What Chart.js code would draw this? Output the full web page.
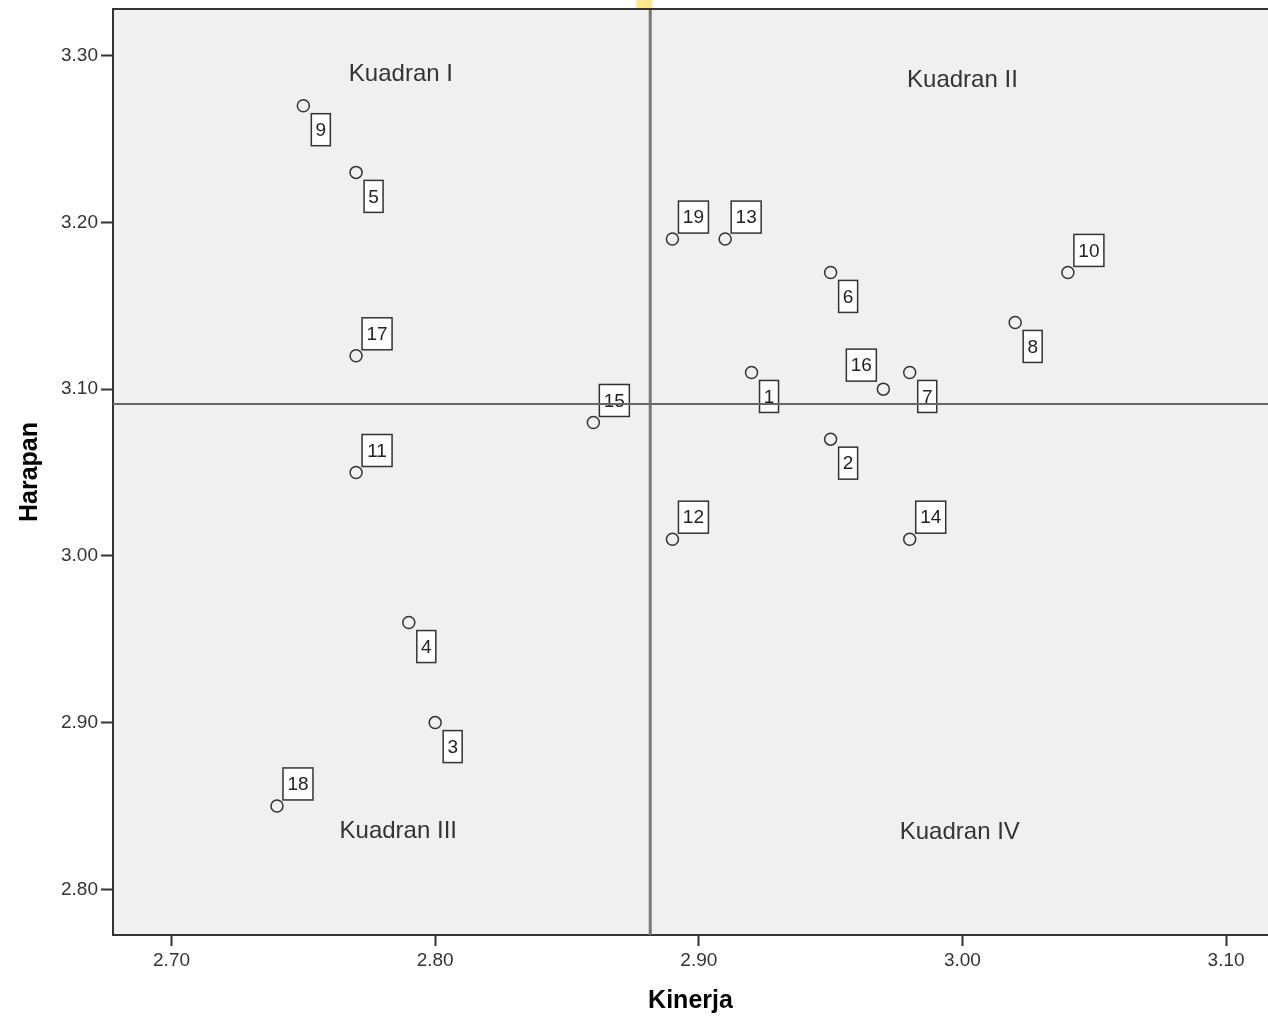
<!DOCTYPE html>
<html>
<head>
<meta charset="utf-8">
<script src="https://cdn.jsdelivr.net/npm/chart.js@4.4.1/dist/chart.umd.min.js"></script>
<style>
  html, body { margin: 0; padding: 0; background: #fff; overflow: hidden; }
  #myChart { display: block; }
</style>
</head>
<body>
<canvas id="myChart" width="1268" height="1019"></canvas>
<script>
// attribute numbers, performance (x) and expectation (y)
const labels  = ['1', '2', '3', '4', '5', '6', '7', '8', '9', '10', '11', '12', '13', '14', '15', '16', '17', '18', '19'];
const kinerja = [2.92, 2.95, 2.80, 2.79, 2.77, 2.95, 2.98, 3.02, 2.75, 3.04, 2.77, 2.89, 2.91, 2.98, 2.86, 2.97, 2.77, 2.74, 2.89];
const harapan = [3.11, 3.07, 2.90, 2.96, 3.23, 3.17, 3.11, 3.14, 3.27, 3.17, 3.05, 3.01, 3.19, 3.01, 3.08, 3.10, 3.12, 2.85, 3.19];
// where the number box sits relative to the point: ur = upper right, lr = lower right, ul = upper left
const labelPos = ['lr', 'lr', 'lr', 'lr', 'lr', 'lr', 'lr', 'lr', 'lr', 'ur', 'ur', 'ur', 'ur', 'ur', 'ur', 'ul', 'ur', 'ur', 'ur'];

const xTicks = [2.70, 2.80, 2.90, 3.00, 3.10];
const yTicks = [2.80, 2.90, 3.00, 3.10, 3.20, 3.30];

const quadrantText = ['Kuadran I', 'Kuadran II', 'Kuadran III', 'Kuadran IV'];
const quadrantX = [2.787, 3.000, 2.786, 2.999];
const quadrantY = [3.289, 3.285, 2.835, 2.834];

// reference lines at the means
const meanX = kinerja.reduce((a, b) => a + b, 0) / kinerja.length;
const meanY = harapan.reduce((a, b) => a + b, 0) / harapan.length;

const points = kinerja.map((k, i) => ({ x: k, y: harapan[i] }));

const quadrantPlugin = {
  id: 'quadrants',
  beforeDraw(chart) {
    const { ctx, chartArea: a } = chart;
    ctx.save();
    ctx.fillStyle = '#f0f0f0';
    ctx.fillRect(a.left, a.top, a.right - a.left, a.bottom - a.top);
    ctx.restore();
  },
  afterDatasetsDraw(chart) {
    const { ctx, chartArea: a, scales } = chart;
    const xs = scales.x, ys = scales.y;
    ctx.save();

    // quadrant names
    ctx.font = '24px "Liberation Sans", Arial, sans-serif';
    ctx.fillStyle = '#333';
    ctx.textAlign = 'center';
    ctx.textBaseline = 'middle';
    quadrantText.forEach((t, i) => {
      ctx.fillText(t, xs.getPixelForValue(quadrantX[i]), ys.getPixelForValue(quadrantY[i]));
    });

    // number boxes
    ctx.font = '19px "Liberation Sans", Arial, sans-serif';
    ctx.lineWidth = 1.5;
    labels.forEach((lab, i) => {
      const px = xs.getPixelForValue(kinerja[i]);
      const py = ys.getPixelForValue(harapan[i]);
      const w = lab.length > 1 ? 30 : 19;
      const h = 32;
      let bx, by;
      if (labelPos[i] === 'lr') { bx = px + 8; by = py + 8; }
      else if (labelPos[i] === 'ul') { bx = px - 7 - w; by = py - 8 - h; }
      else { bx = px + 6; by = py - 6 - h; }
      ctx.fillStyle = '#fff';
      ctx.fillRect(bx, by, w, h);
      ctx.strokeStyle = '#333';
      ctx.strokeRect(bx, by, w, h);
      ctx.fillStyle = '#222';
      ctx.fillText(lab, bx + w / 2, by + h / 2 + 1);
    });

    // mean reference lines
    const vx = xs.getPixelForValue(meanX);
    const hy = ys.getPixelForValue(meanY);
    ctx.strokeStyle = '#777';
    ctx.lineWidth = 3;
    ctx.beginPath();
    ctx.moveTo(vx, a.top);
    ctx.lineTo(vx, a.bottom);
    ctx.stroke();
    ctx.strokeStyle = '#666';
    ctx.lineWidth = 2;
    ctx.beginPath();
    ctx.moveTo(a.left, hy);
    ctx.lineTo(a.right, hy);
    ctx.stroke();

    // top frame line
    ctx.strokeStyle = '#333';
    ctx.lineWidth = 2;
    ctx.beginPath();
    ctx.moveTo(a.left, a.top);
    ctx.lineTo(a.right, a.top);
    ctx.stroke();

    // little yellow marker above the plot
    ctx.fillStyle = '#fde68e';
    ctx.fillRect(vx - 14, 0, 16, a.top - 1);
    ctx.restore();
  }
};

var ctx = document.getElementById('myChart').getContext('2d');
var myChart = new Chart(ctx, {
  type: 'scatter',
  data: {
    datasets: [{
      label: 'Atribut',
      data: points,
      pointStyle: 'circle',
      pointRadius: 6,
      pointHoverRadius: 6,
      borderWidth: 1.5,
      borderColor: '#333',
      backgroundColor: 'rgba(0,0,0,0)'
    }]
  },
  options: {
    responsive: false,
    animation: false,
    devicePixelRatio: 1,
    layout: { autoPadding: false, padding: { top: 9, right: 0, left: 0, bottom: 0 } },
    plugins: {
      legend: { display: false },
      tooltip: { enabled: false }
    },
    scales: {
      x: {
        type: 'linear',
        min: 2.6778,
        max: 3.1159,
        afterFit: (s) => { s.height = 84; s.paddingLeft = 0; s.paddingRight = 0; },
        afterBuildTicks: (s) => { s.ticks = xTicks.map(v => ({ value: v })); },
        ticks: {
          color: '#333',
          font: { size: 19, family: '"Liberation Sans", Arial, sans-serif' },
          padding: 3,
          maxRotation: 0,
          callback: (v) => Number(v).toFixed(2)
        },
        grid: { drawOnChartArea: false, drawTicks: true, tickLength: 11, color: '#333', tickWidth: 2 },
        border: { display: true, color: '#333', width: 2 },
        title: {
          display: true,
          text: 'Kinerja',
          color: '#000',
          font: { size: 25, weight: 'bold', family: '"Liberation Sans", Arial, sans-serif' },
          padding: { top: 0, bottom: 3 }
        }
      },
      y: {
        type: 'linear',
        min: 2.7726,
        max: 3.328,
        afterFit: (s) => { s.width = 113; s.paddingTop = 0; s.paddingBottom = 0; },
        afterBuildTicks: (s) => { s.ticks = yTicks.map(v => ({ value: v })); },
        ticks: {
          color: '#333',
          font: { size: 19, family: '"Liberation Sans", Arial, sans-serif' },
          padding: 3,
          callback: (v) => Number(v).toFixed(2)
        },
        grid: { drawOnChartArea: false, drawTicks: true, tickLength: 12, color: '#333', tickWidth: 2 },
        border: { display: true, color: '#333', width: 2 },
        title: {
          display: true,
          text: 'Harapan',
          color: '#000',
          font: { size: 25, weight: 'bold', family: '"Liberation Sans", Arial, sans-serif' },
          padding: { top: 15, bottom: 0 }
        }
      }
    }
  },
  plugins: [quadrantPlugin]
});
</script>
</body>
</html>
